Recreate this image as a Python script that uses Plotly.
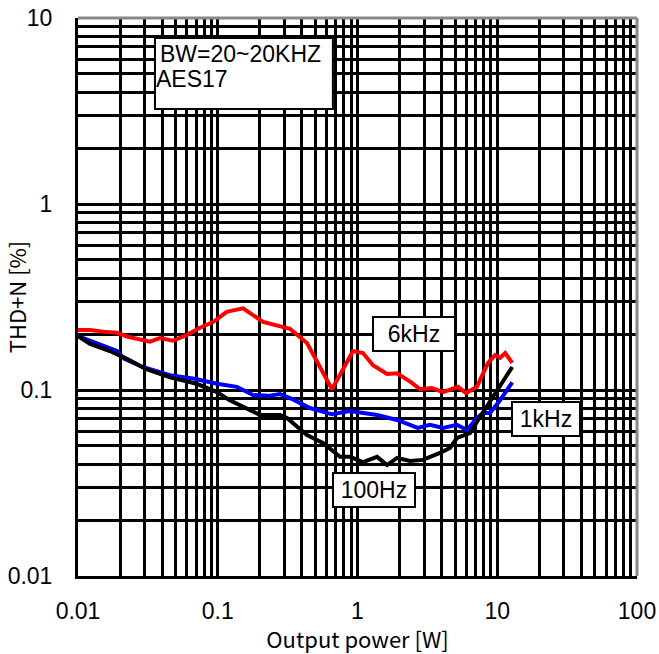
import numpy as np
import plotly.graph_objects as go

# ---- data (Output power [W], THD+N [%]) ----
x_6k = [0.01, 0.0122, 0.0151, 0.019, 0.0224, 0.0327, 0.0386, 0.0478, 0.0603, 0.0746, 0.0925,
        0.116, 0.129, 0.152, 0.211, 0.329, 0.435, 0.657, 0.929, 1.095, 1.29, 1.63, 1.92,
        2.38, 2.80, 3.41, 4.09, 5.24, 5.98, 7.16, 7.53, 8.59, 9.64, 10.5, 11.4, 12.8]
y_6k = [0.210, 0.210, 0.206, 0.203, 0.194, 0.182, 0.190, 0.184, 0.198, 0.216, 0.232,
        0.263, 0.268, 0.275, 0.232, 0.213, 0.179, 0.101, 0.162, 0.158, 0.136, 0.122, 0.123,
        0.111, 0.101, 0.1025, 0.0975, 0.104, 0.0963, 0.104, 0.113, 0.140, 0.154, 0.149, 0.158, 0.140]

x_1k = [0.01, 0.0122, 0.019, 0.0215, 0.029, 0.0455, 0.068, 0.0988, 0.137, 0.179, 0.23,
        0.279, 0.345, 0.457, 0.657, 0.884, 1.38, 1.92, 2.7, 3.3, 4.09, 5.15, 6.08, 7.16,
        7.91, 8.88, 10.5, 12.8]
y_1k = [0.195, 0.184, 0.162, 0.147, 0.133, 0.120, 0.115, 0.108, 0.104, 0.094, 0.093,
        0.095, 0.089, 0.080, 0.074, 0.0771, 0.0734, 0.069, 0.0625, 0.0649, 0.0625, 0.0649, 0.061, 0.0707,
        0.0752, 0.0752, 0.0883, 0.110]

x_100 = [0.01, 0.0122, 0.0169, 0.0224, 0.0305, 0.0455, 0.0706, 0.0988, 0.122, 0.144, 0.201,
         0.279, 0.313, 0.435, 0.566, 0.750, 0.884, 1.095, 1.38, 1.63, 1.92, 2.38, 2.94, 3.89,
         4.59, 5.15, 6.38, 7.53, 9.33, 12.8]
y_100 = [0.195, 0.177, 0.162, 0.147, 0.130, 0.117, 0.108, 0.0975, 0.088, 0.083, 0.0734,
         0.0734, 0.0707, 0.0573, 0.0519, 0.0437, 0.0437, 0.041, 0.0437, 0.0395, 0.0431, 0.0415, 0.0421, 0.0459,
         0.0488, 0.0552, 0.0587, 0.0716, 0.0917, 0.133]

x_decades = [0.01, 0.1, 1, 10, 100]
x_decade_labels = ["0.01", "0.1", "1", "10", "100"]
y_decades = [0.01, 0.1, 1, 10]
y_decade_labels = ["0.01", "0.1", "1", "10"]

series_labels = ["6kHz", "1kHz", "100Hz"]
note_lines = ["BW=20~20KHZ", "AES17"]


def grid_ticks(decades, labels):
    vals, texts = [], []
    for d, lab in zip(decades, labels):
        vals.append(d)
        texts.append(lab)
        if d != decades[-1]:
            for m in range(2, 10):
                vals.append(d * m)
                texts.append("")
    return vals, texts


xv, xt = grid_ticks(x_decades, x_decade_labels)
yv, yt = grid_ticks(y_decades, y_decade_labels)

fig = go.Figure()
fig.add_trace(go.Scatter(x=x_1k, y=y_1k, mode="lines", line=dict(color="#0000ff", width=4), name="1kHz"))
fig.add_trace(go.Scatter(x=x_6k, y=y_6k, mode="lines", line=dict(color="#ff0000", width=4), name="6kHz"))
fig.add_trace(go.Scatter(x=x_100, y=y_100, mode="lines", line=dict(color="#000000", width=4), name="100Hz"))

tick_font = dict(family="Liberation Sans, Arial", size=23, color="black")
title_font = dict(family="Noto Sans CJK JP", size=22, color="black")

fig.update_layout(
    width=659, height=654,
    margin=dict(l=78, r=22, t=18, b=78),
    paper_bgcolor="white", plot_bgcolor="white",
    showlegend=False,
    xaxis=dict(type="log", range=[-2, 2], tickmode="array", tickvals=xv, ticktext=xt,
               showgrid=True, gridcolor="black", gridwidth=2.5, automargin=False,
               showline=True, linecolor="black", linewidth=3, mirror=False,
               ticks="", tickfont=tick_font, ticklabelstandoff=12,
               title=dict(text="Output power [W]", font=title_font, standoff=4)),
    yaxis=dict(type="log", range=[-2, 1], tickmode="array", tickvals=yv, ticktext=yt,
               showgrid=True, gridcolor="black", gridwidth=2.5, automargin=False,
               showline=True, linecolor="black", linewidth=3, mirror=False,
               ticks="", tickfont=tick_font, ticklabelstandoff=18,
               title=dict(text="THD+N [%]", font=title_font, standoff=4)),
)

# gray top/right frame
fig.add_shape(type="line", xref="paper", yref="paper", x0=0, x1=1, y0=1, y1=1,
              line=dict(color="#888888", width=3), layer="above")
fig.add_shape(type="line", xref="paper", yref="paper", x0=1, x1=1, y0=0, y1=1,
              line=dict(color="#888888", width=3), layer="above")

# note box
fig.add_shape(type="rect", xref="paper", yref="paper", x0=0.1377, x1=0.456, y0=0.837, y1=0.964,
              fillcolor="white", line=dict(color="black", width=2), layer="above")
fig.add_annotation(xref="paper", yref="paper", x=0.1430, y=0.9355, xanchor="left", yanchor="middle",
                   text=note_lines[0], showarrow=False, font=tick_font)
fig.add_annotation(xref="paper", yref="paper", x=0.1360, y=0.8907, xanchor="left", yanchor="middle",
                   text=note_lines[1], showarrow=False, font=tick_font)

# series labels (positions in log10 units)
label_pos = [(0.404, -0.699, 80, 32), (1.349, -1.156, 66, 32), (0.118, -1.538, 80, 32)]
for lab, (lx, ly, w, h) in zip(series_labels, label_pos):
    fig.add_annotation(x=lx, y=ly, xref="x", yref="y", text=lab, showarrow=False,
                       font=tick_font, bgcolor="white", bordercolor="black", borderwidth=2,
                       borderpad=0, width=w, height=h, xanchor="center", yanchor="middle")

fig.write_html("out.html")
